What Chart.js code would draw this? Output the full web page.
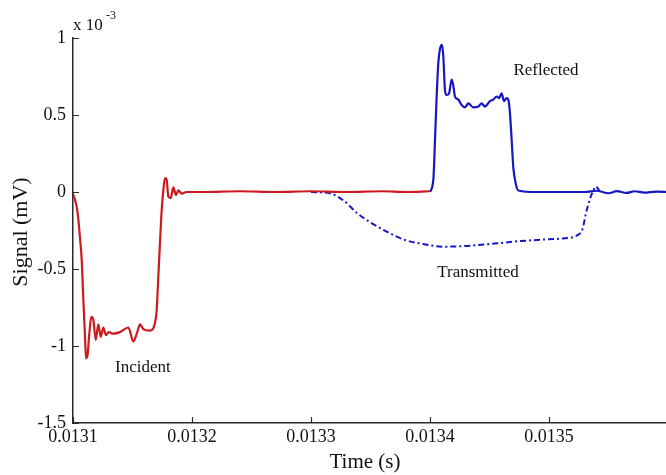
<!DOCTYPE html>
<html>
<head>
<meta charset="utf-8">
<script src="https://cdn.jsdelivr.net/npm/chart.js@4.4.1/dist/chart.umd.min.js"></script>
<style>
  html, body { margin: 0; padding: 0; background: #fff; overflow: hidden; }
  #wrap { width: 666px; height: 475px; overflow: hidden; }
  canvas { display: block; }
</style>
</head>
<body>
<div id="wrap"><canvas id="chart" width="669" height="475"></canvas></div>
<script>
// values (time in s, signal in units of 1e-3 mV)
const xTicks = [0.0131, 0.0132, 0.0133, 0.0134, 0.0135];
const xTickLabels = ['0.0131', '0.0132', '0.0133', '0.0134', '0.0135'];
const yTicks = [1, 0.5, 0, -0.5, -1, -1.5];
const yTickLabels = ['1', '0.5', '0', '-0.5', '-1', '-1.5'];

const incidentT = [0.0131, 0.0131003, 0.0131017, 0.0131034, 0.0131045, 0.0131059, 0.0131073, 0.0131087,
  0.0131101, 0.0131109, 0.013112, 0.0131137, 0.0131154, 0.0131171, 0.0131191, 0.0131213, 0.0131233,
  0.0131255, 0.0131277, 0.01313, 0.0131339, 0.0131395, 0.0131465, 0.0131507, 0.013154, 0.0131563,
  0.0131591, 0.0131647, 0.0131689, 0.0131703, 0.0131717, 0.0131731, 0.0131745, 0.0131759, 0.0131773,
  0.0131787, 0.0131801, 0.0131821, 0.0131843, 0.0131866, 0.0131885, 0.0131913, 0.0131955, 0.0132100,
  0.0132400, 0.0132700, 0.0133000, 0.0133300, 0.0133600, 0.0133800, 0.0133995];
const incidentV = [-0.01, -0.02, -0.05, -0.11, -0.18, -0.30, -0.44, -0.70,
  -0.94, -1.08, -1.07, -0.92, -0.81, -0.83, -0.96, -0.86, -0.94,
  -0.88, -0.93, -0.91, -0.92, -0.91, -0.88, -0.97, -0.91, -0.86,
  -0.89, -0.90, -0.85, -0.77, -0.55, -0.33, -0.12, 0.01, 0.09,
  0.08, -0.03, -0.04, 0.03, -0.02, 0.01, -0.01, 0.0, 0.0,
  0.005, 0.0, 0.005, 0.0, 0.005, 0.0, 0.005];

const reflectedT = [0.0134, 0.0134028, 0.0134042, 0.0134056, 0.0134070, 0.0134084, 0.0134101, 0.0134112,
  0.0134126, 0.0134140, 0.0134160, 0.0134182, 0.0134196, 0.013421, 0.0134238, 0.0134266, 0.0134294,
  0.0134322, 0.0134364, 0.0134406, 0.0134434, 0.0134462, 0.0134504, 0.0134532, 0.0134560, 0.0134580,
  0.0134602, 0.0134622, 0.0134644, 0.0134658, 0.0134672, 0.0134686, 0.0134700, 0.0134719, 0.0134742,
  0.013490, 0.013510, 0.013530, 0.013540, 0.013550, 0.013557, 0.013565, 0.013572, 0.013580, 0.013590, 0.0136];
const reflectedV = [0.0, 0.08, 0.34, 0.62, 0.84, 0.93, 0.955, 0.88,
  0.66, 0.63, 0.64, 0.73, 0.69, 0.62, 0.60, 0.565, 0.55,
  0.575, 0.55, 0.555, 0.575, 0.555, 0.59, 0.60, 0.62, 0.61,
  0.64, 0.59, 0.61, 0.60, 0.51, 0.34, 0.16, 0.06, 0.01,
  0.0, 0.0, 0.0, 0.008, -0.008, 0.006, -0.006, 0.005, -0.004, 0.003, 0.0];

const transmittedT = [0.0133, 0.0133168, 0.0133280, 0.0133392, 0.0133504, 0.0133644, 0.0133784, 0.0133924,
  0.0134120, 0.0134316, 0.0134540, 0.0134736, 0.0134932, 0.0135128, 0.0135240, 0.0135282, 0.0135310,
  0.0135338, 0.0135366, 0.0135394, 0.0135422];
const transmittedV = [0.0, -0.01, -0.06, -0.14, -0.20, -0.26, -0.31, -0.335,
  -0.355, -0.35, -0.335, -0.32, -0.31, -0.30, -0.28, -0.24, -0.14,
  -0.06, 0.0, 0.035, 0.01];

const labels = [
  { text: 'Incident', x: 0.0131588, y: -1.14 },
  { text: 'Reflected', x: 0.0134975, y: 0.79 },
  { text: 'Transmitted', x: 0.0134403, y: -0.52 }
];

const RED = '#cc1a1f';
const BLUE = '#1616c4';
const AXIS = '#2a2a2a';
const SERIF = '"Liberation Serif", "Times New Roman", serif';

function pts(ts, vs) {
  return ts.map((t, i) => ({ x: t, y: vs[i] }));
}

// tick marks pointing into the plot, axis titles, exponent and curve labels
const decorations = {
  id: 'decorations',
  afterDraw(chart) {
    const { ctx, chartArea, scales } = chart;
    const xs = scales.x, ys = scales.y;
    ctx.save();
    ctx.strokeStyle = AXIS;
    ctx.lineWidth = 1.2;
    ctx.beginPath();
    xTicks.forEach(v => {
      const px = Math.round(xs.getPixelForValue(v)) + 0.5;
      ctx.moveTo(px, chartArea.bottom);
      ctx.lineTo(px, chartArea.bottom - 6);
    });
    yTicks.forEach(v => {
      const py = Math.round(ys.getPixelForValue(v)) + 0.5;
      ctx.moveTo(chartArea.left, py);
      ctx.lineTo(chartArea.left + 6, py);
    });
    ctx.stroke();

    ctx.fillStyle = '#111';
    ctx.textAlign = 'center';
    ctx.textBaseline = 'middle';
    ctx.font = '21px ' + SERIF;
    ctx.fillText('Time (s)', 365, 462);

    ctx.save();
    ctx.translate(21, 232);
    ctx.rotate(-Math.PI / 2);
    ctx.font = '22px ' + SERIF;
    ctx.fillText('Signal (mV)', 0, 0);
    ctx.restore();

    ctx.textAlign = 'left';
    ctx.font = '17px ' + SERIF;
    ctx.fillText('x 10', 73, 26);
    ctx.font = '12px ' + SERIF;
    ctx.fillText('-3', 106, 16);

    ctx.textAlign = 'center';
    ctx.font = '17px ' + SERIF;
    labels.forEach(l => {
      ctx.fillText(l.text, xs.getPixelForValue(l.x), ys.getPixelForValue(l.y));
    });
    ctx.restore();
  }
};

new Chart(document.getElementById('chart'), {
  type: 'line',
  data: {
    datasets: [
      { label: 'Incident', data: pts(incidentT, incidentV), borderColor: RED, borderWidth: 2.2 },
      { label: 'Reflected', data: pts(reflectedT, reflectedV), borderColor: BLUE, borderWidth: 2.2 },
      { label: 'Transmitted', data: pts(transmittedT, transmittedV), borderColor: BLUE, borderWidth: 2,
        borderDash: [6, 3, 2, 3] }
    ]
  },
  options: {
    responsive: false,
    animation: false,
    elements: { point: { radius: 0 }, line: { cubicInterpolationMode: 'monotone' } },
    layout: { padding: { left: 0, top: 38, right: 1, bottom: 0 } },
    plugins: { legend: { display: false }, tooltip: { enabled: false } },
    scales: {
      x: {
        type: 'linear',
        min: 0.0131,
        max: 0.0136,
        grid: { display: false, drawTicks: false },
        border: { display: true, color: AXIS, width: 1.5 },
        afterBuildTicks: s => { s.ticks = xTicks.map(v => ({ value: v })); },
        afterFit: s => { s.height = 52; },
        ticks: {
          padding: 3,
          color: '#111',
          font: { family: SERIF, size: 18 },
          maxRotation: 0,
          callback: (v, i) => xTickLabels[i]
        }
      },
      y: {
        min: -1.5,
        max: 1,
        grid: { display: false, drawTicks: false },
        border: { display: true, color: AXIS, width: 1.5 },
        afterBuildTicks: s => { s.ticks = yTicks.map(v => ({ value: v })); },
        afterFit: s => { s.width = 73; },
        ticks: {
          padding: 7,
          color: '#111',
          font: { family: SERIF, size: 18 },
          callback: (v, i) => yTickLabels[i]
        }
      }
    }
  },
  plugins: [decorations]
});
</script>
</body>
</html>
